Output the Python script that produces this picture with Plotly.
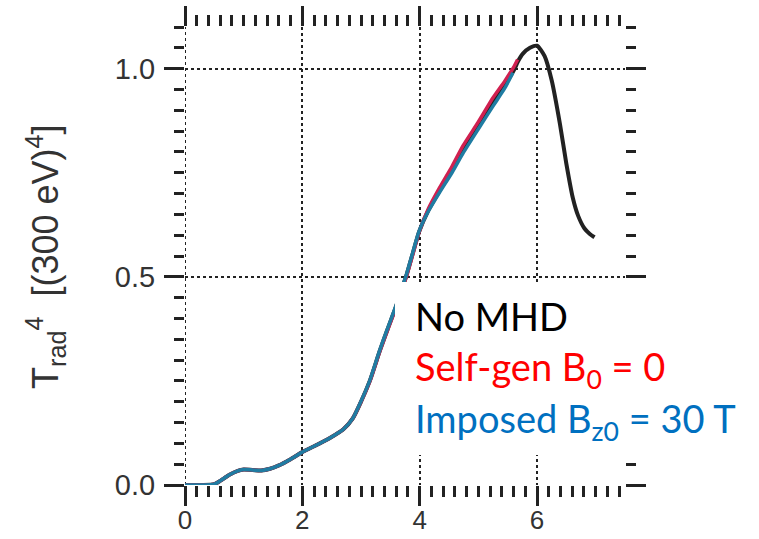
import plotly.graph_objects as go

# ---- data ----
x_black = [0, 0.3, 0.5, 0.6, 0.75, 0.9, 1.0, 1.15, 1.3, 1.45, 1.6, 1.8, 2.0, 2.2, 2.47, 2.7, 2.86,
           3.0, 3.15, 3.32, 3.45, 3.58, 3.7, 3.78, 3.9, 3.99, 4.15, 4.34, 4.55, 4.74, 5.0, 5.25,
           5.45, 5.62, 5.67, 5.76, 5.88, 6.0, 6.13, 6.25, 6.39, 6.5, 6.61, 6.7, 6.81, 6.9, 6.98]
y_black = [0, 0, 0.002, 0.01, 0.024, 0.034, 0.037, 0.036, 0.035, 0.039, 0.047, 0.062, 0.079, 0.093,
           0.113, 0.134, 0.16, 0.2, 0.25, 0.322, 0.373, 0.422, 0.472, 0.506, 0.565, 0.608, 0.66,
           0.707, 0.755, 0.803, 0.862, 0.918, 0.96, 1.0, 1.016, 1.036, 1.05, 1.055, 1.03, 0.972,
           0.868, 0.772, 0.69, 0.647, 0.616, 0.603, 0.595]

x_red = [0, 0.3, 0.5, 0.6, 0.75, 0.9, 1.0, 1.15, 1.3, 1.45, 1.6, 1.8, 2.0, 2.2, 2.47, 2.7, 2.86,
         3.0, 3.15, 3.32, 3.45, 3.58, 3.7, 3.78, 3.9, 3.99, 4.15, 4.34, 4.55, 4.74, 5.0, 5.25,
         5.45, 5.6, 5.67]
y_red = [0, 0, 0.002, 0.01, 0.024, 0.034, 0.037, 0.036, 0.035, 0.039, 0.047, 0.062, 0.079, 0.093,
         0.113, 0.134, 0.16, 0.2, 0.249, 0.321, 0.371, 0.42, 0.469, 0.503, 0.562, 0.607, 0.664,
         0.714, 0.765, 0.815, 0.872, 0.93, 0.97, 1.003, 1.022]

x_blue = [0, 0.3, 0.5, 0.6, 0.75, 0.9, 1.0, 1.15, 1.3, 1.45, 1.6, 1.8, 2.0, 2.2, 2.47, 2.7, 2.86,
          3.0, 3.15, 3.32, 3.45, 3.58, 3.7, 3.78, 3.9, 3.99, 4.15, 4.34, 4.55, 4.74, 5.0, 5.25,
          5.45, 5.59]
y_blue = [0, 0, 0.002, 0.01, 0.024, 0.034, 0.037, 0.036, 0.035, 0.039, 0.047, 0.062, 0.079, 0.093,
          0.113, 0.134, 0.16, 0.201, 0.251, 0.324, 0.375, 0.424, 0.474, 0.508, 0.567, 0.61,
          0.658, 0.703, 0.75, 0.797, 0.855, 0.91, 0.953, 0.99]

legend_labels = ["No MHD", "Self-gen B<sub>0</sub> = 0", "Imposed B<sub>z0</sub> = 30 T"]
legend_colors = ["#000000", "#FF0000", "#0070C0"]

y_tickvals = [0, 0.5, 1.0]
y_ticktext = ["0.0", "0.5", "1.0"]
x_tickvals = [0, 2, 4, 6]
x_ticktext = ["0", "2", "4", "6"]

fig = go.Figure()
fig.add_trace(go.Scatter(x=x_black, y=y_black, mode="lines", line=dict(color="#222222", width=4,
                         shape="spline", smoothing=0.6), showlegend=False))
fig.add_trace(go.Scatter(x=x_red, y=y_red, mode="lines", line=dict(color="#d02050", width=3.5,
                         shape="spline", smoothing=0.6), showlegend=False))
fig.add_trace(go.Scatter(x=x_blue, y=y_blue, mode="lines", line=dict(color="#1f7ca2", width=3.5,
                         shape="spline", smoothing=0.6), showlegend=False))

fig.update_xaxes(range=[0, 7.5], tickmode="array", tickvals=x_tickvals, ticktext=x_ticktext,
                 ticks="outside", ticklen=20, tickwidth=3, tickcolor="#222222", mirror="ticks",
                 showline=False, zeroline=False, automargin=False, ticklabelstandoff=-8,
                 showgrid=True, gridcolor="#222222", griddash="dot", gridwidth=2,
                 minor=dict(dtick=0.2, tick0=0, ticks="outside", ticklen=11, tickwidth=3,
                            tickcolor="#222222", showgrid=False),
                 tickfont=dict(family="Liberation Sans, Arial, sans-serif", size=26, color="#333333"))
fig.update_yaxes(range=[0, 1.1], tickmode="array", tickvals=y_tickvals, ticktext=y_ticktext,
                 ticks="outside", ticklen=20, tickwidth=3, tickcolor="#222222", mirror="ticks",
                 showline=False, zeroline=False, automargin=False, ticklabelstandoff=3,
                 showgrid=True, gridcolor="#222222", griddash="dot", gridwidth=2,
                 minor=dict(dtick=0.05, tick0=0, ticks="outside", ticklen=10, tickwidth=3,
                            tickcolor="#222222", showgrid=False),
                 tickfont=dict(family="Liberation Sans, Arial, sans-serif", size=29, color="#333333"))

L, R, T, B = 185, 134, 27, 54
W, H = 759, 539
pw, ph = W - L - R, H - T - B

def px_x(p):
    return (p - L) / pw

def px_y(p):
    return (H - B - p) / ph

# dotted grid line on the left edge (x = first tick value)
fig.add_shape(type="line", xref="x", yref="paper", x0=x_tickvals[0], x1=x_tickvals[0], y0=0, y1=1,
              line=dict(color="#222222", width=2, dash="dot"), layer="below")

# white legend box covering part of the plot
fig.add_shape(type="rect", xref="paper", yref="paper",
              x0=px_x(395), x1=px_x(759), y0=px_y(455), y1=px_y(282),
              fillcolor="white", line=dict(width=0), layer="above")

legend_y = [316, 369, 421]
for lab, col, yy in zip(legend_labels, legend_colors, legend_y):
    fig.add_annotation(xref="paper", yref="paper", x=px_x(413), y=px_y(yy),
                       xanchor="left", yanchor="middle", text=lab, showarrow=False,
                       font=dict(family="Lato, Carlito, sans-serif", size=38, color=col))

fig.add_annotation(xref="paper", yref="paper", x=px_x(45), y=px_y(257),
                   xanchor="center", yanchor="middle", textangle=-90, showarrow=False,
                   text="T<sub>rad</sub><sup>4</sup>\u00a0\u00a0[(300 eV)<sup>4</sup>]",
                   font=dict(family="Liberation Sans, Arial, sans-serif", size=36, color="#333333"))

fig.update_layout(width=W, height=H, margin=dict(l=L, r=R, t=T, b=B),
                  plot_bgcolor="white", paper_bgcolor="white", showlegend=False)

fig.write_html("out.html")
